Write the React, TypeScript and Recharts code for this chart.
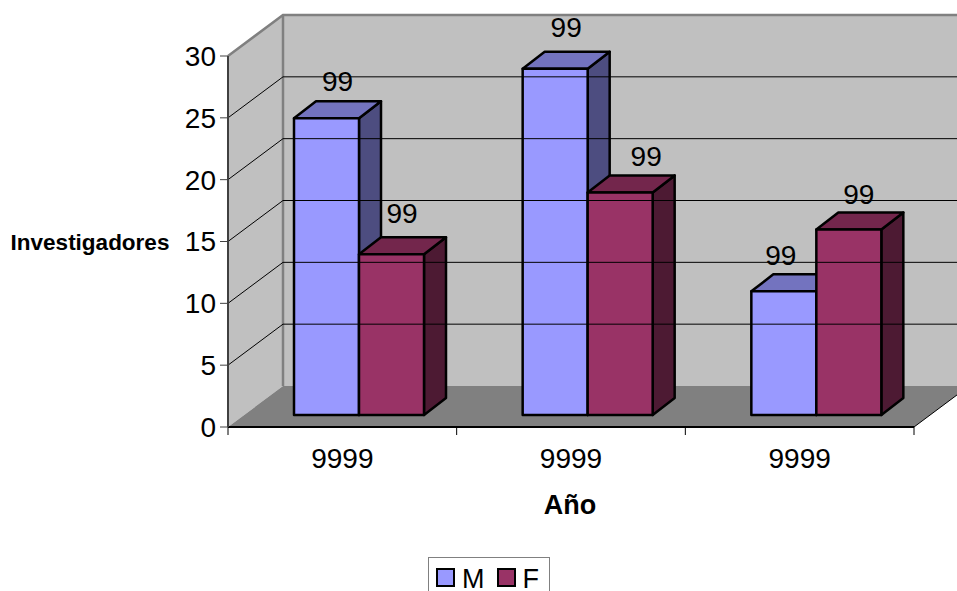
import { BarChart, Bar, XAxis, YAxis, ReferenceArea, ReferenceLine, LabelList, Legend } from 'recharts'

const years = ['9999', '9999', '9999']
const valuesM = [24, 28, 10]
const valuesF = [13, 18, 15]
const labelsM = ['99', '99', '99']
const labelsF = ['99', '99', '99']
const yTicks = [0, 5, 10, 15, 20, 25, 30]
const gridTicks = [5, 10, 15, 20, 25]

const data = years.map((year, i) => ({ year, M: valuesM[i], F: valuesF[i] }))

const FONT = '"Liberation Sans", Arial, sans-serif'

// fake 3D: how far the back wall sits from the axes, and where the bars stand on the floor
const WALL_DX = 55
const WALL_DY = -41
const BAR_DX = 17
const BAR_DY = -12
const DEPTH_DX = 22
const DEPTH_DY = -17
const TICK_SIZE = 8

// Excel left the data labels a bit off centre, each one on its own
const nudgeM = [[11, -37], [11, -41], [-3, -36]]
const nudgeF = [[10.5, -41], [26, -36], [10, -35]]

function Walls({ x, y, width, height }: any) {
  const bottom = y + height
  const right = x + width
  const band = width / years.length
  return (
    <g>
      <polygon
        points={`${x},${y} ${x + WALL_DX},${y + WALL_DY} ${x + WALL_DX},${bottom + WALL_DY} ${x},${bottom}`}
        fill="#c0c0c0"
      />
      <rect x={x + WALL_DX} y={y + WALL_DY} width={width} height={height} fill="#c0c0c0" />
      <polygon
        points={`${x},${bottom} ${x + WALL_DX},${bottom + WALL_DY} ${right + WALL_DX},${bottom + WALL_DY} ${right},${bottom}`}
        fill="#808080"
      />
      <polyline
        points={`${x},${y} ${x + WALL_DX},${y + WALL_DY} ${right + WALL_DX},${y + WALL_DY}`}
        fill="none"
        stroke="#808080"
        strokeWidth={2.5}
      />
      <line
        x1={x + WALL_DX}
        y1={y + WALL_DY}
        x2={x + WALL_DX}
        y2={bottom + WALL_DY}
        stroke="#808080"
        strokeWidth={2.5}
      />
      <line x1={right} y1={bottom} x2={right + WALL_DX} y2={bottom + WALL_DY} stroke="#000" strokeWidth={1} />
      {/* category ticks sit between the groups, not under them */}
      {[0, 1, 2, 3].map((i) => (
        <line
          key={i}
          x1={x + i * band}
          y1={bottom}
          x2={x + i * band}
          y2={bottom + TICK_SIZE}
          stroke="#000"
          strokeWidth={1}
        />
      ))}
    </g>
  )
}

function GridLine({ x1, y1, x2, y2 }: any) {
  return (
    <polyline
      points={`${x1},${y1} ${x1 + WALL_DX},${y1 + WALL_DY} ${x2 + WALL_DX},${y2 + WALL_DY}`}
      fill="none"
      stroke="#000"
      strokeWidth={1}
    />
  )
}

function Bar3D({ x, y, width, height, fill, topFill, sideFill }: any) {
  const left = x + BAR_DX
  const top = y + BAR_DY
  const right = left + width
  const bottom = top + height
  return (
    <g stroke="#000" strokeWidth={2.5} strokeLinejoin="round">
      <polygon
        points={`${right},${top} ${right + DEPTH_DX},${top + DEPTH_DY} ${right + DEPTH_DX},${bottom + DEPTH_DY} ${right},${bottom}`}
        fill={sideFill}
      />
      <polygon
        points={`${left},${top} ${left + DEPTH_DX},${top + DEPTH_DY} ${right + DEPTH_DX},${top + DEPTH_DY} ${right},${top}`}
        fill={topFill}
      />
      <rect x={left} y={top} width={width} height={height} fill={fill} />
    </g>
  )
}

function barLabel(labels: string[], nudge: number[][]) {
  return ({ x, y, width, index }: any) => (
    <text
      x={x + BAR_DX + width / 2 + nudge[index][0]}
      y={y + BAR_DY + nudge[index][1]}
      textAnchor="middle"
      dominantBaseline="central"
      fontFamily={FONT}
      fontSize={28}
      fill="#000"
    >
      {labels[index]}
    </text>
  )
}

function axisTitle(text: string, x: number, y: number, fontSize: number) {
  return () => (
    <text
      x={x}
      y={y}
      textAnchor="middle"
      dominantBaseline="central"
      fontFamily={FONT}
      fontSize={fontSize}
      fontWeight={700}
      fill="#000"
    >
      {text}
    </text>
  )
}

function LegendBox() {
  const swatch = (fill: string) => (
    <span
      style={{
        display: 'inline-block',
        boxSizing: 'border-box',
        width: 19,
        height: 19,
        background: fill,
        border: '2.5px solid #000',
        marginRight: 7,
      }}
    />
  )
  return (
    <div
      style={{
        boxSizing: 'border-box',
        width: 122,
        height: 44,
        border: '1px solid #808080',
        background: '#fff',
        paddingLeft: 7,
        display: 'flex',
        alignItems: 'flex-start',
        paddingTop: 10,
        fontFamily: FONT,
        fontSize: 27,
        lineHeight: '22px',
        color: '#000',
      }}
    >
      {swatch('#9999ff')}
      <span style={{ marginRight: 12 }}>M</span>
      {swatch('#993366')}
      <span>F</span>
    </div>
  )
}

export default function App() {
  return (
    <div style={{ position: 'absolute', left: 0, top: 0, width: 957, height: 591, overflow: 'hidden', background: '#fff' }}>
      <BarChart
        width={957}
        height={591}
        data={data}
        margin={{ top: 56, right: 43, bottom: 60, left: 0 }}
        barCategoryGap={49}
        barGap={0}
      >
        <XAxis
          dataKey="year"
          height={60}
          axisLine={{ stroke: '#000', strokeWidth: 2 }}
          tickLine={false}
          tickSize={8}
          tick={{ fontSize: 28, fontFamily: FONT, fill: '#000' }}
          tickMargin={13}
          label={{ content: axisTitle('Año', 570, 505, 27) }}
        />
        <YAxis
          width={228}
          domain={[0, 30]}
          ticks={yTicks}
          interval={0}
          axisLine={{ stroke: '#404040', strokeWidth: 2 }}
          tickLine={{ stroke: '#404040', strokeWidth: 1 }}
          tickSize={TICK_SIZE}
          tick={{ fontSize: 28, fontFamily: FONT, fill: '#000' }}
          tickMargin={4}
          label={{ content: axisTitle('Investigadores', 90, 242, 22.5) }}
        />
        <ReferenceArea y1={0} y2={30} shape={<Walls />} fill="none" stroke="none" />
        {gridTicks.map((t) => (
          <ReferenceLine key={t} y={t} shape={<GridLine />} />
        ))}
        <Bar
          dataKey="M"
          fill="#9999ff"
          isAnimationActive={false}
          shape={(props: any) => <Bar3D {...props} fill="#9999ff" topFill="#7373bf" sideFill="#4d4d80" />}
        >
          <LabelList content={barLabel(labelsM, nudgeM)} />
        </Bar>
        <Bar
          dataKey="F"
          fill="#993366"
          isAnimationActive={false}
          shape={(props: any) => <Bar3D {...props} fill="#993366" topFill="#73264c" sideFill="#4d1a33" />}
        >
          <LabelList content={barLabel(labelsF, nudgeF)} />
        </Bar>
        <Legend
          verticalAlign="bottom"
          content={() => <LegendBox />}
          wrapperStyle={{ position: 'absolute', left: 428, top: 557, width: 122, bottom: 'auto' }}
        />
      </BarChart>
    </div>
  )
}
